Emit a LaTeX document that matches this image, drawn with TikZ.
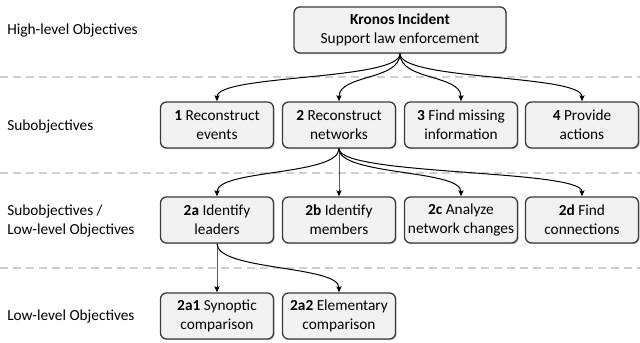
\documentclass[tikz,border=0pt]{standalone}
\usepackage{fontspec}
\setmainfont{Carlito}
\usetikzlibrary{arrows.meta,shadows}

\definecolor{boxfill}{HTML}{F2F2F2}
\definecolor{boxline}{HTML}{3A3A3A}
\definecolor{sepgray}{HTML}{D0D0D0}

\newcommand*{\xMin}{0}
\newcommand*{\xMax}{640}
\newcommand*{\yMax}{343}

\tikzset{
	objbox/.style={draw=boxline, fill=boxfill, line width=1pt, rounded corners=4.5pt,
		minimum width=84.75pt, minimum height=34.5pt, inner sep=0pt, align=center,
		drop shadow={shadow xshift=0.9pt, shadow yshift=-0.9pt, fill=black, opacity=0.2}},
	levellabel/.style={anchor=west, align=left, inner sep=0pt},
	conn/.style={-{Stealth[length=4.5pt,width=3.8pt,inset=0.8pt]}, line width=0.75pt, black},
}

\begin{document}
\begin{tikzpicture}[x=0.75pt, y=-0.75pt, font=\fontsize{11.5}{14.25}\selectfont]
	\useasboundingbox (\xMin,0) rectangle (\xMax,\yMax);

	% level separators
	\foreach \y in {77,173,268} {
		\draw [sepgray, line width=1.1pt, dash pattern=on 6pt off 3.75pt] (\xMin,\y) -- (\xMax,\y);
	}

	% level labels
	\node [levellabel] (lvlHigh) at (7,30) {High-level Objectives};
	\node [levellabel] (lvlSub) at (7,126) {Subobjectives};
	\node [levellabel] (lvlSubLow) at (7,221) {Subobjectives /\\Low-level Objectives};
	\node [levellabel] (lvlLow) at (7,316) {Low-level Objectives};

	% objectives
	\node [objbox, minimum width=159pt] (kronos) at (400,30) {\textbf{Kronos Incident}\\Support law enforcement};

	\node [objbox] (sub1) at (217,125) {\textbf{1} Reconstruct\\events};
	\node [objbox] (sub2) at (339,125) {\textbf{2} Reconstruct\\networks};
	\node [objbox] (sub3) at (461,125) {\textbf{3} Find missing\\information};
	\node [objbox] (sub4) at (582,125) {\textbf{4} Provide\\actions};

	\node [objbox] (sub2a) at (217,220) {\textbf{2a} Identify\\leaders};
	\node [objbox] (sub2b) at (339,220) {\textbf{2b} Identify\\members};
	\node [objbox] (sub2c) at (461,220) {\textbf{2c} Analyze\\network changes};
	\node [objbox] (sub2d) at (582,220) {\textbf{2d} Find\\connections};

	\node [objbox] (sub2a1) at (217,316) {\textbf{2a1} Synoptic\\comparison};
	\node [objbox] (sub2a2) at (339,316) {\textbf{2a2} Elementary\\comparison};

	% connectors
	\foreach \n in {sub1,sub2,sub3,sub4} {
		\draw [conn] (kronos.south) .. controls +(0,27) and +(0,-27) .. (\n.north);
	}
	\foreach \n in {sub2a,sub2b,sub2c,sub2d} {
		\draw [conn] (sub2.south) .. controls +(0,27) and +(0,-27) .. (\n.north);
	}
	\foreach \n in {sub2a1,sub2a2} {
		\draw [conn] (sub2a.south) .. controls +(0,27) and +(0,-27) .. (\n.north);
	}
\end{tikzpicture}
\end{document}
